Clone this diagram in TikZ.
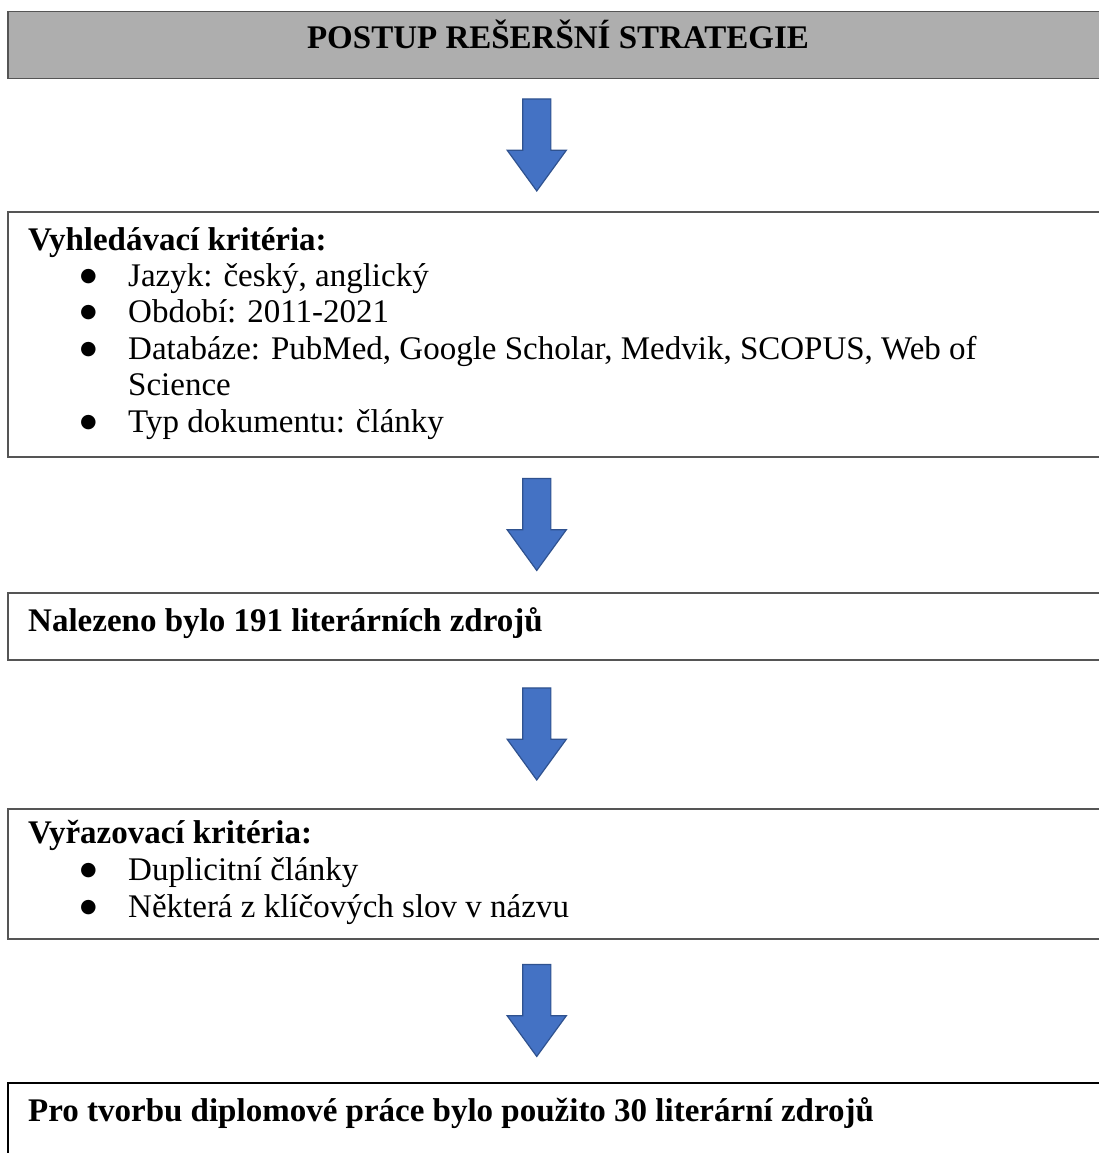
\documentclass[tikz,border=0pt]{standalone}
\usepackage{fontspec}
\setmainfont{Liberation Serif}
\newfontfamily\symfont{DejaVu Sans}
\definecolor{boxgray}{RGB}{174,174,174}
\definecolor{boxline}{RGB}{85,85,85}
\definecolor{arrowblue}{RGB}{68,114,196}
\definecolor{arrowline}{RGB}{47,82,143}
\usetikzlibrary{shapes.arrows, calc, positioning}
\newcommand{\bul}{\hspace*{52pt}\makebox[48pt][l]{\raisebox{5pt}{\symfont\fontsize{19}{0}\selectfont ●}}}
\newcommand{\hang}{\hspace*{100pt}}

\begin{document}
\begin{tikzpicture}[x=1pt, y=-1pt,
  stagebox/.style={draw=boxline, line width=1.5pt, rectangle, anchor=north west,
                   minimum width=1100pt, inner sep=0pt},
  stagetext/.style={font=\fontsize{33}{36.4}\selectfont, align=left, anchor=north west, inner sep=0pt},
  downarrow/.style={single arrow, draw=arrowline, fill=arrowblue, line width=1.2pt,
                    shape border rotate=270, minimum height=92pt, inner sep=13.5pt,
                    single arrow head extend=15.5pt, single arrow tip angle=72}]
  \useasboundingbox (0,0) rectangle (1098,1153);
  % boxes
  \node[stagebox, fill=boxgray, minimum height=67pt] (title) at (7,11) {};
  \node[stagebox, minimum height=245pt] (crit) at (7,211) {};
  \node[stagebox, minimum height=67pt] (found) at (7,592) {};
  \node[stagebox, minimum height=130pt] (excl) at (7,808) {};
  \node[stagebox, draw=black, minimum height=120pt] (result) at (7,1082) {};
  % texts
  \node[font=\fontsize{33}{36.4}\selectfont\bfseries, anchor=base] (titletext) at (558,49)
    {POSTUP REŠERŠNÍ STRATEGIE};
  \node[stagetext] (crittext) at ($(crit.north west)+(21,16)$)
    {\textbf{Vyhledávací kritéria:}\\
     \bul Jazyk: český, anglický\\
     \bul Období: 2011-2021\\
     \bul Databáze: PubMed, Google Scholar, Medvik, SCOPUS, Web of\\
     \hang Science\\
     \bul Typ dokumentu: články};
  \node[stagetext, anchor=base west, font=\fontsize{33}{36.4}\selectfont\bfseries] (foundtext) at (28,631)
    {Nalezeno bylo 191 literárních zdrojů};
  \node[stagetext, font=\fontsize{33}{37}\selectfont] (excltext) at ($(excl.north west)+(21,12)$)
    {\textbf{Vyřazovací kritéria:}\\
     \bul Duplicitní články\\
     \bul Některá z klíčových slov v názvu};
  \node[stagetext, anchor=base west, font=\fontsize{33}{36.4}\selectfont\bfseries] (resulttext) at (28,1121)
    {Pro tvorbu diplomové práce bylo použito 30 literární zdrojů};
  % arrows
  \node[downarrow] (a1) at ($(title.south)!0.5!(crit.north)+(-21,-10)$) {};
  \node[downarrow] (a2) at ($(crit.south)!0.5!(found.north)+(-21,-10)$) {};
  \node[downarrow] (a3) at ($(found.south)!0.5!(excl.north)+(-21,-10)$) {};
  \node[downarrow] (a4) at ($(excl.south)!0.5!(result.north)+(-21,-10)$) {};
\end{tikzpicture}
\end{document}
